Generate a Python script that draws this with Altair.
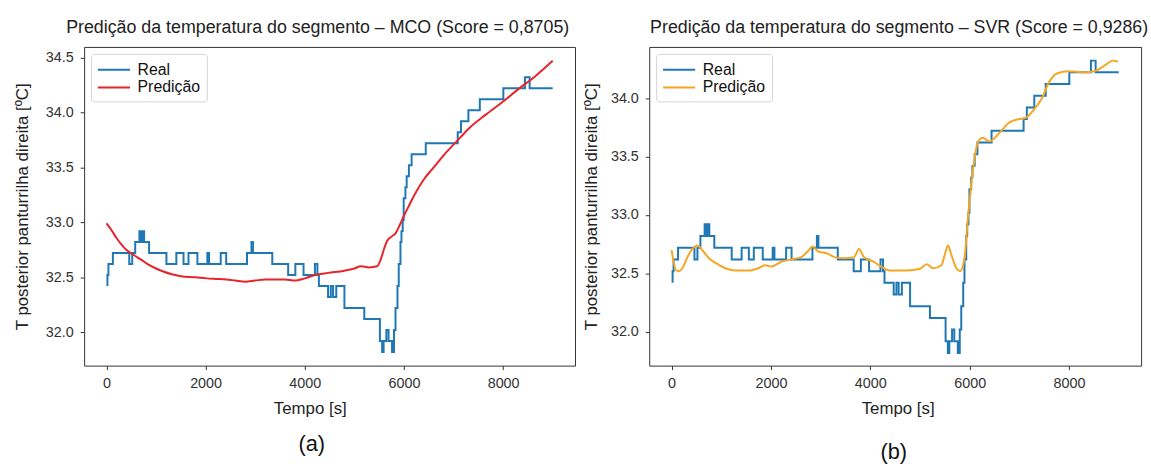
import altair as alt
import pandas as pd

# ---- data ----
real_t = [0, 20, 40, 130, 460, 520, 580, 665, 700, 720, 760, 860, 1210, 1410, 1555, 1655,
          1835, 2035, 2070, 2305, 2415, 2835, 2925, 2955, 3345, 3665, 3810, 3975, 4205, 4255,
          4285, 4470, 4525, 4570, 4635, 4800, 5200, 5515, 5560, 5590, 5645, 5690, 5760, 5800,
          5830, 5870, 5895, 5930, 5950, 5975, 5995, 6030, 6055, 6100, 6155, 6440, 7085, 7150,
          7300, 7530, 8005, 8440, 8535, 9000]
real_v = [32.43, 32.52, 32.62, 32.72, 32.62, 32.72, 32.82, 32.92, 32.82, 32.92, 32.82, 32.72,
          32.62, 32.72, 32.62, 32.72, 32.62, 32.72, 32.62, 32.72, 32.62, 32.72, 32.82, 32.72,
          32.62, 32.52, 32.62, 32.52, 32.62, 32.52, 32.42, 32.32, 32.42, 32.32, 32.42, 32.22,
          32.12, 31.92, 31.82, 31.92, 32.02, 31.92, 31.82, 32.02, 32.22, 32.42, 32.62, 32.82,
          32.92, 33.02, 33.22, 33.32, 33.42, 33.52, 33.62, 33.72, 33.82, 33.92, 34.02, 34.12,
          34.22, 34.32, 34.22, 34.22]

mco_t = [0, 100, 200, 300, 400, 560, 700, 830, 1000, 1160, 1300, 1500, 1800, 2020, 2200, 2420,
         2600, 2800, 3000, 3200, 3400, 3600, 3800, 4000, 4200, 4470, 4800, 5000, 5130, 5300,
         5460, 5530, 5600, 5660, 5750, 5830, 5920, 6000, 6100, 6200, 6400, 6600, 6800, 7050,
         7300, 7650, 8000, 8300, 8650, 9000]
mco_v = [32.99, 32.93, 32.86, 32.80, 32.75, 32.70, 32.66, 32.62, 32.58, 32.55, 32.53, 32.51,
         32.50, 32.49, 32.485, 32.48, 32.47, 32.46, 32.47, 32.48, 32.48, 32.48, 32.47, 32.49,
         32.52, 32.54, 32.56, 32.58, 32.60, 32.59, 32.60, 32.66, 32.76, 32.83, 32.87, 32.90,
         32.98, 33.06, 33.15, 33.24, 33.39, 33.50, 33.61, 33.73, 33.85, 33.98, 34.10, 34.21,
         34.33, 34.47]

svr_t = [0, 33, 86, 153, 219, 319, 418, 518, 618, 750, 883, 1082, 1282, 1547, 1746, 1879, 2012,
         2211, 2410, 2610, 2742, 2842, 2942, 3141, 3274, 3473, 3672, 3771, 3871, 4070, 4270,
         4402, 4734, 5000, 5133, 5266, 5432, 5498, 5564, 5631, 5730, 5810, 5896, 5963, 6029,
         6096, 6162, 6262, 6394, 6593, 6793, 6992, 7125, 7291, 7457, 7590, 7756, 7988, 8320,
         8519, 8718, 8884, 8984]
svr_v = [32.70, 32.62, 32.53, 32.52, 32.545, 32.64, 32.71, 32.74, 32.70, 32.63, 32.59, 32.545,
         32.525, 32.525, 32.545, 32.57, 32.56, 32.60, 32.62, 32.64, 32.69, 32.73, 32.69, 32.67,
         32.64, 32.63, 32.64, 32.71, 32.64, 32.60, 32.545, 32.525, 32.525, 32.54, 32.58, 32.545,
         32.57, 32.66, 32.74, 32.66, 32.545, 32.52, 32.63, 32.97, 33.25, 33.48, 33.62, 33.66,
         33.63, 33.70, 33.79, 33.82, 33.83, 33.90, 34.00, 34.13, 34.21, 34.23, 34.22, 34.23,
         34.28, 34.32, 34.31]

series_names = ["Real", "Predição"]
x_ticks = [0, 2000, 4000, 6000, 8000]
y_ticks_a = [32.0, 32.5, 33.0, 33.5, 34.0, 34.5]
y_ticks_b = [32.0, 32.5, 33.0, 33.5, 34.0]

BLUE = "#1f77b4"
RED = "#e8232a"
ORANGE = "#f5a623"
FONT = "Liberation Sans"
YTITLE = "T posterior panturrilha direita [ºC]"
NBSP = "\u00a0"


def panel(pred_t, pred_v, pred_color, title, title_dx, ydomain, yticks, label, lab_x, lab_y,
          xtitle_x, ytitle_pad, width):
    real_df = pd.DataFrame({"t": real_t, "v": real_v, "s": series_names[0]})
    pred_df = pd.DataFrame({"t": pred_t, "v": pred_v, "s": series_names[1]})
    x = alt.X("t:Q", scale=alt.Scale(domain=[-450, 9450], nice=False, zero=False),
              axis=alt.Axis(values=x_ticks, format="d", title="Tempo [s]", titleX=xtitle_x,
                            titlePadding=11))
    y = alt.Y("v:Q", scale=alt.Scale(domain=ydomain, nice=False, zero=False),
              axis=alt.Axis(values=yticks, format=".1f", title=YTITLE, titlePadding=ytitle_pad))
    color = alt.Color(
        "s:N",
        scale=alt.Scale(domain=series_names, range=[BLUE, pred_color]),
        legend=alt.Legend(
            title=None, orient="top-left", offset=7, padding=6,
            fillColor="white", strokeColor="#d4d4d4", cornerRadius=3,
            symbolType="M-1,0L2.6,0", symbolSize=324, symbolStrokeWidth=2,
            labelOffset=21, labelFontSize=16, labelColor="#111", labelFont=FONT,
            rowPadding=0, labelExpr="datum.label + '" + NBSP * 7 + "'",
        ),
    )
    real = alt.Chart(real_df).mark_line(interpolate="step-after", strokeWidth=2).encode(
        x=x, y=y, color=color)
    pred = alt.Chart(pred_df).mark_line(strokeWidth=2, interpolate="monotone").encode(
        x=x, y=y, color=color)
    lbl = alt.Chart(pd.DataFrame({"l": [label]})).mark_text(
        fontSize=22, font=FONT, color="#111", align="center", baseline="middle"
    ).encode(text="l:N", x=alt.value(lab_x), y=alt.value(lab_y))
    return alt.layer(real, pred, lbl).properties(
        width=width, height=322,
        title=alt.TitleParams(title, anchor="middle", frame="group", dx=title_dx,
                              fontSize=18, fontWeight="normal", font=FONT, color="#222",
                              offset=10),
    )


left = panel(mco_t, mco_v, RED,
             "Predição da temperatura do segmento – MCO (Score = 0,8705)", -12,
             [31.696, 34.596], y_ticks_a, "(a)", 230, 401, 228, 14, 496)
right = panel(svr_t, svr_v, ORANGE,
              "Predição da temperatura do segmento – SVR (Score = 0,9286)", 4,
              [31.712, 34.437], y_ticks_b, "(b)", 247, 409, 251, 10, 497)

chart = alt.hconcat(left, right, spacing=6).resolve_scale(color="independent").configure(
    padding={"left": 13, "top": 16, "right": 2, "bottom": 2},
    background="white",
).configure_view(
    stroke="#333", strokeWidth=1
).configure_axis(
    grid=False, domain=False, tickColor="#333", tickSize=4, labelPadding=7,
    labelFontSize=14.5, labelColor="#333", labelFont=FONT,
    titleFontSize=17, titleFontWeight="normal", titleColor="#222", titleFont=FONT,
)
chart.save("out.html", embed_options={"renderer": "svg", "actions": False})
